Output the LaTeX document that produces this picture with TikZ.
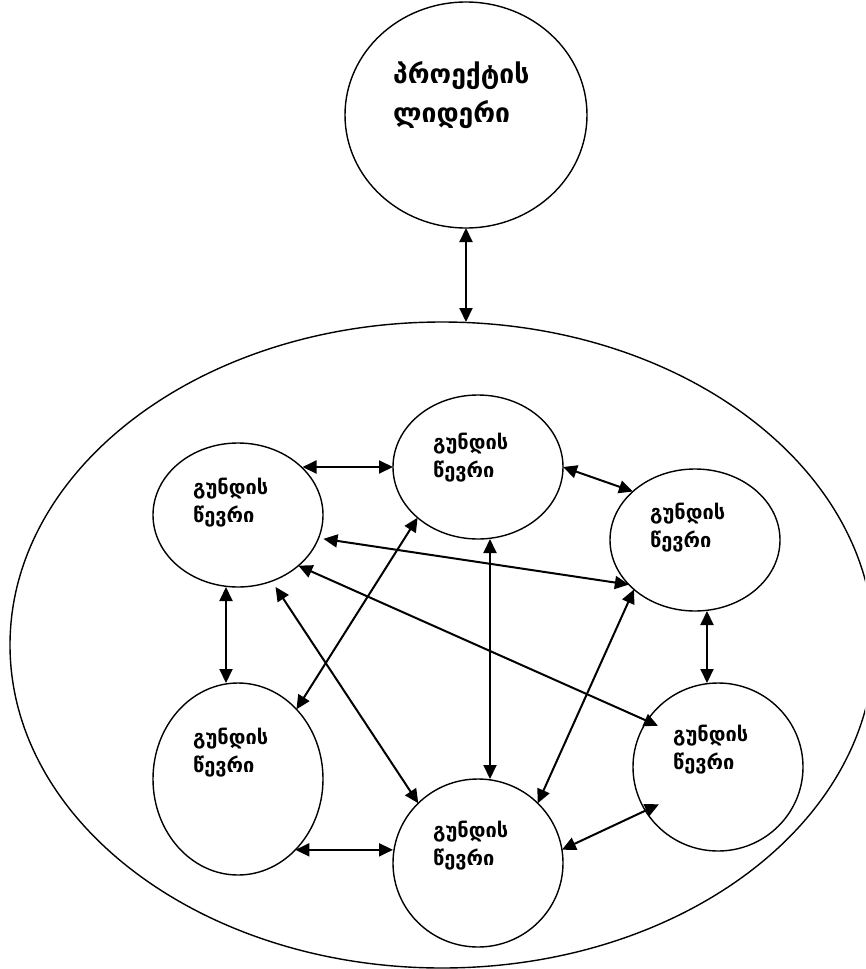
\documentclass[tikz,border=0pt]{standalone}
\usepackage{fontspec}
\newfontfamily\geo{DejaVu Sans}
\usetikzlibrary{shapes.geometric,arrows.meta,calc}
\begin{document}
\begin{tikzpicture}[x=1pt,y=-1pt,
  oval/.style={draw,ellipse,line width=1.4pt,inner sep=0pt,outer sep=0pt},
  member/.style={oval,minimum width=170pt},
  lbl/.style={anchor=north west,inner sep=0pt,align=left,font=\geo\bfseries\fontsize{20}{28}\selectfont},
  leadlbl/.style={anchor=north west,inner sep=0pt,align=left,font=\geo\bfseries\fontsize{26.5}{39}\selectfont},
  tip/.tip={Triangle[length=14pt,width=13pt]},
  link/.style={line width=2pt,tip-tip}
]
\useasboundingbox (0,0) rectangle (865,969);
\clip (0,0) rectangle (865,969);

% project leader and the team boundary
\node[oval,minimum width=242pt,minimum height=226pt] (lead) at (466,115) {};
\node[oval,minimum width=864pt,minimum height=646pt] (team) at (442,645) {};

% team members
\node[member,minimum height=144pt] (tl) at (238,515) {};
\node[member,minimum height=144pt] (tc) at (478,467) {};
\node[member,minimum height=142pt] (tr) at (695,540) {};
\node[member,minimum height=192pt] (bl) at (238,779) {};
\node[member,minimum height=168pt] (bc) at (478,863) {};
\node[member,minimum height=168pt] (br) at (718,767) {};

% labels
\node[leadlbl] (leadtext) at ($(lead.center)+(-73,-54)$) {პროექტის\\ლიდერი};
\node[lbl] (tltext) at ($(tl.center)+(-45,-37)$) {გუნდის\\წევრი};
\node[lbl] (tctext) at ($(tc.center)+(-45,-34)$) {გუნდის\\წევრი};
\node[lbl] (trtext) at ($(tr.center)+(-45,-37)$) {გუნდის\\წევრი};
\node[lbl] (bltext) at ($(bl.center)+(-45,-51)$) {გუნდის\\წევრი};
\node[lbl] (bctext) at ($(bc.center)+(-45,-42)$) {გუნდის\\წევრი};
\node[lbl] (brtext) at ($(br.center)+(-45,-42)$) {გუნდის\\წევრი};

% leader <-> team
\draw[link] (lead.south) -- (lead.south |- team.north);

% links between members
\draw[link] (tl.36 |- tc.west) -- (tc.west);
\draw[link] (tc.east) -- (tr.142);
\draw[link,shorten <=5pt] (tl.-16) -- (tr.214);
\draw[link,shorten >=-12pt] (tl.-40) -- (br.147);
\draw[link] ([xshift=-12pt]tl.south) -- ([xshift=-12pt]bl.north);
\draw[link,shorten <=7pt] (tl.-63) -- (bc.135);
\draw[link] (tc.220) -- (bl.50);
\draw[link] ([xshift=12pt]tc.south) -- ([xshift=12pt]bc.north);
\draw[link] (tr.219) -- (bc.45);
\draw[link] ([xshift=12pt]tr.south) -- ([xshift=12pt]tr.south |- br.north);
\draw[link] (bl.-51) -- (bl.-51 -| bc.west);
\draw[link,shorten >=-15pt] (bc.9) -- (br.211);
\end{tikzpicture}
\end{document}
